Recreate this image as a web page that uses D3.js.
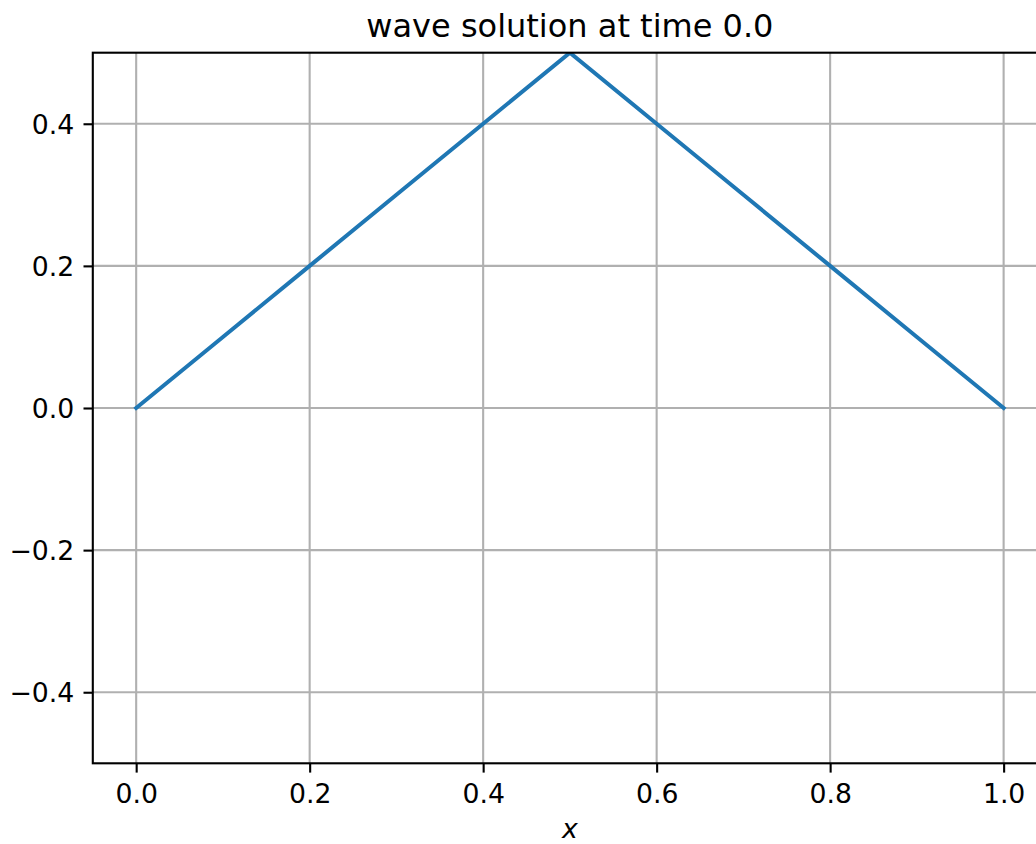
<!DOCTYPE html>
<html>
<head>
<meta charset="utf-8">
<script src="https://cdn.jsdelivr.net/npm/d3@7"></script>
<style>
  html, body { margin: 0; padding: 0; background: #fff; }
  svg { display: block; font-family: "DejaVu Sans", sans-serif; }
</style>
</head>
<body>
<div id="chart"></div>
<script>
(function(){

    // grid points and displacement at t = 0
    const xValues = [0.0, 0.1, 0.2, 0.3, 0.4, 0.5, 0.6, 0.7, 0.8, 0.9, 1.0];
    const uValues = [0.0, 0.1, 0.2, 0.3, 0.4, 0.5, 0.4, 0.3, 0.2, 0.1, 0.0];

    const xTicks = [0.0, 0.2, 0.4, 0.6, 0.8, 1.0];
    const yTicks = [-0.4, -0.2, 0.0, 0.2, 0.4];
    const xDomain = [-0.05, 1.05];
    const yDomain = [-0.5, 0.5];

    const titleText = "wave solution at time 0.0";
    const xLabel = "x";

    const width = 1036, height = 844;
    // plot area (right edge runs past the window, like the reference crop)
    const left = 92.8, right = 1047, top = 52.7, bottom = 763.3;

    const fontSize = 26.7;
    const tickLen = 9.3, tickPad = 9.3;

    const svg = d3.select("#chart")
        .append("svg")
        .attr("width", width)
        .attr("height", height);

    const x = d3.scaleLinear().domain(xDomain).range([left, right]);
    const y = d3.scaleLinear().domain(yDomain).range([bottom, top]);

    svg.append("defs").append("clipPath")
        .attr("id", "plotclip")
        .append("rect")
        .attr("x", left).attr("y", top)
        .attr("width", right - left).attr("height", bottom - top);

    // grid
    const grid = svg.append("g").attr("clip-path", "url(#plotclip)");
    grid.selectAll(".gx")
        .data(xTicks)
        .enter()
        .append("line")
        .attr("x1", d => x(d)).attr("x2", d => x(d))
        .attr("y1", top).attr("y2", bottom)
        .attr("stroke", "#b0b0b0")
        .attr("stroke-width", 2.1);
    grid.selectAll(".gy")
        .data(yTicks)
        .enter()
        .append("line")
        .attr("x1", left).attr("x2", right)
        .attr("y1", d => y(d)).attr("y2", d => y(d))
        .attr("stroke", "#b0b0b0")
        .attr("stroke-width", 2.1);

    // the solution curve
    const line = d3.line()
        .x((d, i) => x(xValues[i]))
        .y(d => y(d));

    svg.append("path")
        .datum(uValues)
        .attr("clip-path", "url(#plotclip)")
        .attr("d", line)
        .attr("fill", "none")
        .attr("stroke", "#1f77b4")
        .attr("stroke-width", 4)
        .attr("stroke-linejoin", "round")
        .attr("stroke-linecap", "square");

    // axes with matplotlib-ish ticks
    const fmt = d => d3.format(".1f")(d).replace("-", "\u2212");

    const xAxis = svg.append("g")
        .attr("transform", `translate(0,${bottom})`)
        .call(d3.axisBottom(x).tickValues(xTicks).tickFormat(fmt)
            .tickSize(tickLen).tickPadding(tickPad));
    const yAxis = svg.append("g")
        .attr("transform", `translate(${left},0)`)
        .call(d3.axisLeft(y).tickValues(yTicks).tickFormat(fmt)
            .tickSize(tickLen).tickPadding(tickPad));

    [xAxis, yAxis].forEach(g => {
        g.select(".domain").remove();
        g.selectAll(".tick line").attr("stroke", "#000").attr("stroke-width", 2.1);
        g.selectAll(".tick text")
            .attr("fill", "#000")
            .style("font-family", "'DejaVu Sans', sans-serif")
            .style("font-size", fontSize + "px");
    });
    xAxis.selectAll(".tick text").attr("dy", null).attr("y", null)
        .attr("transform", `translate(0,${803 - bottom})`);
    yAxis.selectAll(".tick text").attr("dy", "0.36em");

    // spines
    svg.append("rect")
        .attr("x", left).attr("y", top)
        .attr("width", right - left).attr("height", bottom - top)
        .attr("fill", "none")
        .attr("stroke", "#000")
        .attr("stroke-width", 2.1);

    // title and label
    svg.append("text")
        .attr("x", (left + right) / 2)
        .attr("y", 37)
        .attr("text-anchor", "middle")
        .attr("font-size", 32)
        .attr("fill", "#000")
        .text(titleText);

    svg.append("text")
        .attr("x", (left + right) / 2)
        .attr("y", 838)
        .attr("text-anchor", "middle")
        .attr("font-size", fontSize)
        .attr("font-style", "italic")
        .attr("fill", "#000")
        .text(xLabel);

})();
</script>
</body>
</html>
